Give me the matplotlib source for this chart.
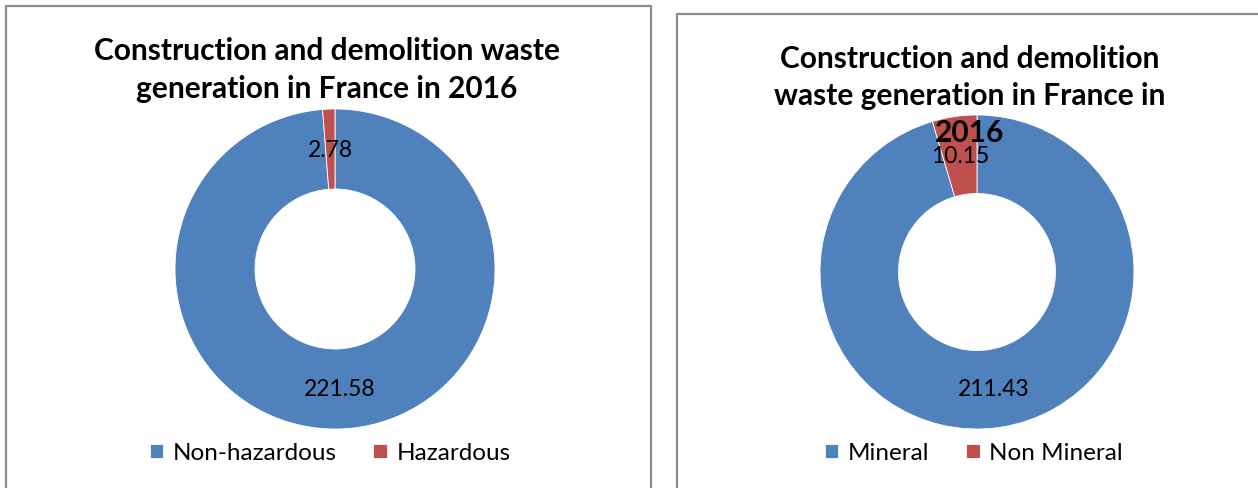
import matplotlib
matplotlib.use("Agg")
import matplotlib.pyplot as plt
from matplotlib.patches import Rectangle

plt.rcParams['font.family'] = ['Lato', 'DejaVu Sans']

W, H = 1258, 489
DPI = 100

left_labels = ["Non-hazardous", "Hazardous"]
left_values = [221.58, 2.78]
left_title = "Construction and demolition waste\ngeneration in France in 2016"

right_labels = ["Mineral", "Non Mineral"]
right_values = [211.43, 10.15]
right_title = "Construction and demolition\nwaste generation in France in\n2016"

colors = ["#4F81BD", "#C0504D"]

fig = plt.figure(figsize=(W / DPI, H / DPI), dpi=DPI)
fig.patch.set_facecolor("white")

def px_axes(cx, cy, r):
    return fig.add_axes([(cx - r) / W, (H - cy - r) / H, 2 * r / W, 2 * r / H])

# panel borders
for (x0, y0, x1, y1) in [(6, 7, 651, 500), (677, 15, 1270, 500)]:
    fig.add_artist(Rectangle((x0 / W, 1 - y1 / H), (x1 - x0) / W, (y1 - y0) / H,
                             transform=fig.transFigure, fill=False,
                             edgecolor="#8c8c8c", linewidth=1.6, zorder=0))

def donut(cx, cy, r, values, labels, legend_y, legend_x):
    ax = px_axes(cx, cy, r)
    total = sum(values)
    wedges, _, autotexts = ax.pie(
        values, colors=colors, startangle=90, counterclock=False, radius=1.0,
        wedgeprops=dict(width=0.5, edgecolor="white", linewidth=0.6),
        autopct=lambda p: f"{p * total / 100:.2f}", pctdistance=0.75,
        textprops=dict(fontsize=16.5, color="black"))
    ax.set_xlim(-1, 1)
    ax.set_ylim(-1, 1)
    ax.set_aspect("equal")
    ax.axis("off")
    fig.legend(wedges, labels, loc="center", bbox_to_anchor=(legend_x / W, 1 - legend_y / H),
               ncol=2, frameon=False, fontsize=17.5, handlelength=0.55, handleheight=0.55,
               handletextpad=0.4, columnspacing=1.5)
    return ax

donut(335, 270, 160, left_values, left_labels, 454, 330)
ax2 = donut(977, 273, 157, right_values, right_labels, 454, 974)

fig.text(327 / W, 1 - 70 / H, left_title, ha="center", va="center",
         fontsize=21.5, fontweight="bold", linespacing=1.4)
fig.text(970 / W, 1 - 96 / H, right_title, ha="center", va="center",
         fontsize=21.5, fontweight="bold", linespacing=1.4, zorder=10)

fig.savefig("out.png", dpi=DPI, facecolor="white")
